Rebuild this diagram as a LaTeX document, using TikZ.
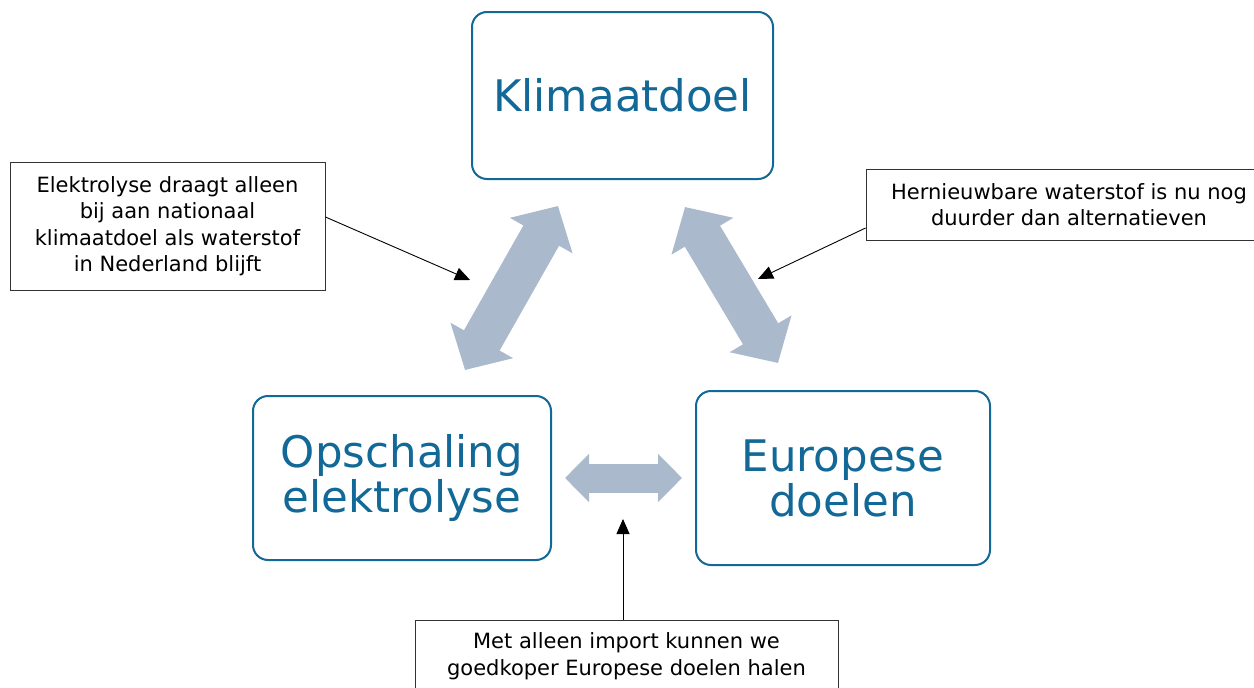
\documentclass[tikz,border=0pt]{standalone}
\usepackage{fontspec}
\setmainfont{DejaVu Sans}
\usetikzlibrary{arrows.meta}
\definecolor{doelblue}{RGB}{18,104,150}
\definecolor{pijlgrey}{RGB}{170,185,203}
\begin{document}
\begin{tikzpicture}[x=1pt,y=-1pt,
	doel/.style={draw=doelblue,line width=2pt,rounded corners=15pt,text=doelblue,align=center,font=\fontsize{43.5}{45}\selectfont,inner sep=0pt},
	noot/.style={draw=black!80,line width=0.9pt,fill=white,align=center,font=\fontsize{21}{26.5}\selectfont,inner sep=0pt},
	wijzer/.style={black,line width=0.9pt,-{Triangle[length=15pt,width=13pt]}},
	dikpijl/.style={pijlgrey,line width=41pt,{Triangle[length=34pt,width=70pt]}-{Triangle[length=34pt,width=70pt]}},
	dunpijl/.style={pijlgrey,line width=29pt,{Triangle[length=24pt,width=47pt]}-{Triangle[length=24pt,width=47pt]}}]
	\useasboundingbox (0,0) rectangle (1254,688);
	\node[doel,minimum width=301pt,minimum height=167pt] (klimaat) at (622.5,95.5) {Klimaatdoel};
	\node[doel,minimum width=298pt,minimum height=164pt] (opschaling) at (402,478) {Opschaling\\elektrolyse};
	\node[doel,minimum width=294pt,minimum height=174pt] (europa) at (843,478) {Europese\\doelen};
	\coordinate (kl1) at (558,206);
	\coordinate (op1) at (465,370);
	\coordinate (kl2) at (685,207);
	\coordinate (eu2) at (778,363);
	\coordinate (op3) at (565,478);
	\coordinate (eu3) at (682,478);
	\draw[dikpijl] (op1) -- (kl1);
	\draw[dikpijl] (kl2) -- (eu2);
	\draw[dunpijl] (op3) -- (eu3);
	\node[noot,minimum width=315pt,minimum height=128pt] (nootL) at (167.5,226) {Elektrolyse draagt alleen\\bij aan nationaal\\klimaatdoel als waterstof\\in Nederland blijft};
	\node[noot,minimum width=406pt,minimum height=71pt] (nootR) at (1069,204.5) {Hernieuwbare waterstof is nu nog\\duurder dan alternatieven};
	\node[noot,minimum width=423pt,minimum height=72pt] (nootB) at (626.5,656) {Met alleen import kunnen we\\goedkoper Europese doelen halen};
	\coordinate (tipL) at (470,280);
	\coordinate (tipR) at (758,279);
	\coordinate (tipB) at (623,519);
	\draw[wijzer] ([yshift=9pt]nootL.east) -- (tipL);
	\draw[wijzer] ([yshift=-23.5pt]nootR.west) -- (tipR);
	\draw[wijzer] (nootB.north -| tipB) -- (tipB);
\end{tikzpicture}
\end{document}
